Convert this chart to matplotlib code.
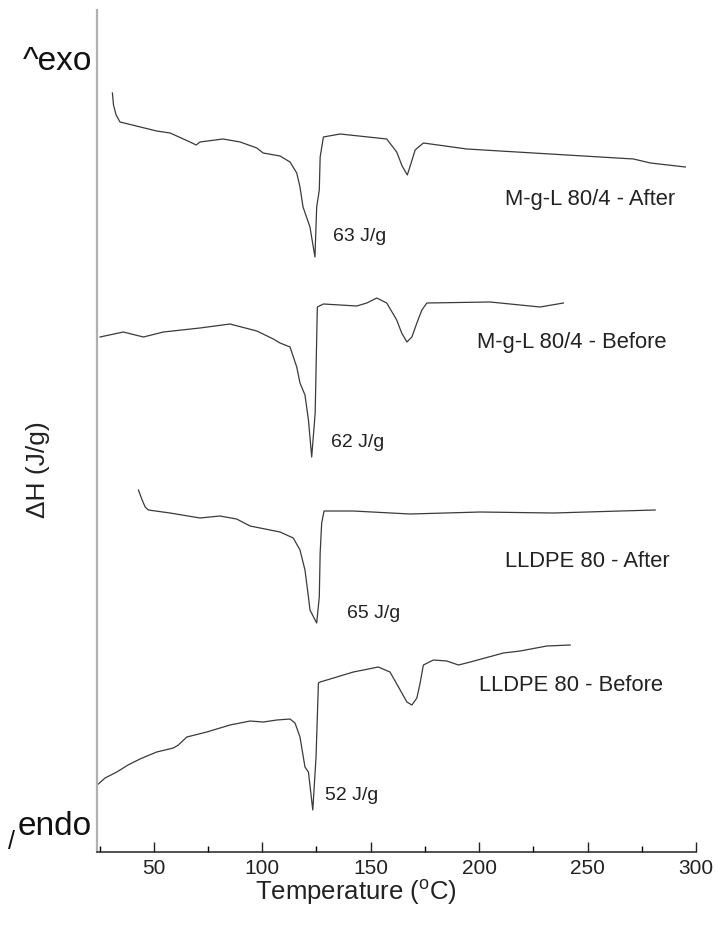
import matplotlib
matplotlib.use("Agg")
import matplotlib.pyplot as plt
from matplotlib.ticker import MultipleLocator

plt.rcParams['font.family'] = ['Liberation Sans', 'DejaVu Sans']
plt.rcParams['mathtext.fontset'] = 'custom'
plt.rcParams['mathtext.rm'] = 'Liberation Sans'

# Courbes DSC (température en °C, flux en unités arbitraires, décalées)
temp_mgl_after = [30.9, 31.4, 32.6, 34.4, 51.3, 57.5, 66.7, 69.5, 71.3, 81.9, 89.8, 97.5, 100.4,
                  108.2, 112.8, 115.9, 117.4, 118.8, 122.0, 124.3, 125.1, 126.3, 126.7, 128.2,
                  135.9, 157.4, 162.0, 164.5, 166.9, 168.5, 170.5, 174.3, 194.3, 225.0, 255.8,
                  271.2, 279.0, 295.1]
heat_mgl_after = [75.9, 74.7, 73.7, 73.0, 72.1, 71.9, 71.0, 70.7, 71.0, 71.3, 71.0, 70.4, 69.9,
                  69.6, 69.0, 67.9, 66.5, 64.5, 62.5, 59.5, 64.5, 66.2, 69.5, 71.5,
                  71.8, 71.3, 70.0, 68.6, 67.7, 68.8, 70.2, 70.9, 70.3, 69.9, 69.5,
                  69.3, 68.9, 68.5]

temp_mgl_before = [25.2, 35.9, 45.2, 54.4, 71.3, 85.1, 97.5, 105.1, 108.2, 112.8, 115.9, 117.4,
                   119.7, 121.3, 122.8, 124.4, 125.4, 128.2, 143.6, 148.2, 152.8, 157.4, 162.0,
                   164.3, 166.7, 169.0, 171.3, 173.6, 175.9, 205.1, 228.1, 238.9]
heat_mgl_before = [51.5, 52.0, 51.5, 52.0, 52.4, 52.8, 52.1, 51.3, 50.9, 50.5, 48.5, 46.9,
                   45.7, 43.2, 39.5, 43.9, 54.5, 54.8, 54.6, 54.9, 55.4, 54.9, 53.2,
                   51.9, 51.0, 51.5, 52.9, 54.2, 54.9, 55.0, 54.5, 54.9]

temp_lldpe_after = [42.9, 44.6, 46.0, 47.5, 57.5, 71.3, 80.5, 88.2, 94.4, 108.2, 114.3, 117.4,
                    119.7, 121.3, 122.0, 125.1, 126.3, 126.7, 127.4, 128.5, 142.0, 168.2, 200.5,
                    234.3, 265.0, 281.2]
heat_lldpe_after = [36.2, 35.2, 34.5, 34.2, 33.9, 33.4, 33.6, 33.3, 32.6, 32.0, 31.4, 30.2,
                    28.2, 25.5, 24.2, 22.9, 25.5, 29.9, 32.9, 34.1, 34.1, 33.8, 34.0,
                    33.9, 34.1, 34.2]

temp_lldpe_before = [24.4, 27.5, 32.9, 38.1, 43.6, 51.3, 59.0, 61.3, 65.2, 74.4, 85.1, 94.4,
                     100.5, 106.7, 112.8, 115.1, 117.4, 119.7, 121.3, 123.3, 124.8, 125.9, 126.7,
                     131.3, 142.0, 153.5, 158.9, 163.6, 166.7, 169.0, 171.3, 172.8, 174.3, 178.9,
                     185.1, 190.5, 195.9, 211.2, 218.9, 231.2, 242.0]
heat_lldpe_before = [6.8, 7.4, 8.0, 8.7, 9.3, 10.0, 10.4, 10.7, 11.5, 12.0, 12.7, 13.1,
                     13.0, 13.2, 13.3, 12.9, 11.5, 8.5, 8.0, 4.2, 9.5, 16.9, 17.0,
                     17.3, 18.0, 18.5, 18.0, 16.2, 15.0, 14.7, 15.4, 16.9, 18.7, 19.2,
                     19.1, 18.7, 19.0, 19.9, 20.1, 20.6, 20.7]

sample_names = ["M-g-L 80/4 - After", "M-g-L 80/4 - Before", "LLDPE 80 - After", "LLDPE 80 - Before"]
enthalpies = ["63 J/g", "62 J/g", "65 J/g", "52 J/g"]


def plot_dsc():
    fig = plt.figure(figsize=(7.16, 9.25), dpi=100)
    ax = fig.add_axes([0.1355, 0.0789, 0.8365, 0.9103])

    curves = [(temp_mgl_after, heat_mgl_after), (temp_mgl_before, heat_mgl_before),
              (temp_lldpe_after, heat_lldpe_after), (temp_lldpe_before, heat_lldpe_before)]
    for t, h in curves:
        ax.plot(t, h, color='#3a3a3a', lw=0.9)

    # placement des étiquettes (nom de l'échantillon, enthalpie de fusion)
    name_pos = [(212.0, 65.2), (198.9, 51.0), (212.0, 29.1), (200.1, 16.7)]
    dh_pos = [(132.7, 61.5), (131.6, 41.0), (139.0, 23.9), (129.0, 5.7)]
    for name, (x, y) in zip(sample_names, name_pos):
        ax.text(x, y, name, fontsize=15.8, color='#222222', ha='left', va='center')
    for e, (x, y) in zip(enthalpies, dh_pos):
        ax.text(x, y, e, fontsize=14, color='#222222', ha='left', va='center')

    ax.set_xlim(23.8, 300)
    ax.set_ylim(0, 84.2)
    ax.xaxis.set_major_locator(MultipleLocator(50))
    ax.xaxis.set_minor_locator(MultipleLocator(25))
    ax.set_yticks([])
    ax.tick_params(axis='x', which='major', direction='in', length=7, width=1.0,
                   labelsize=15, pad=5, colors='#222222')
    ax.tick_params(axis='x', which='minor', direction='in', length=4, width=1.0)

    ax.spines['top'].set_visible(False)
    ax.spines['right'].set_visible(False)
    ax.spines['left'].set_color('#b0b0b0')
    ax.spines['left'].set_linewidth(1.6)
    ax.spines['bottom'].set_color('#222222')
    ax.spines['bottom'].set_linewidth(1.1)

    fig.text(0.497, 0.036, r'Temperature ($^{\mathrm{o}}$C)', fontsize=18.5, color='#222222',
             ha='center', va='center')
    fig.text(0.053, 0.492, '\u0394H (J/g)', fontsize=19, color='#222222',
             ha='center', va='center', rotation=90)
    fig.text(0.032, 0.933, '^exo', fontsize=24, color='#111111', ha='left', va='center')
    fig.text(0.025, 0.0973, 'endo', fontsize=24, color='#111111', ha='left', va='baseline')
    fig.text(0.011, 0.0825, '/', fontsize=18, color='#111111', ha='left', va='baseline')

    fig.savefig('out.png', dpi=100)


def main():
    plot_dsc()


if __name__ == '__main__':
    main()
